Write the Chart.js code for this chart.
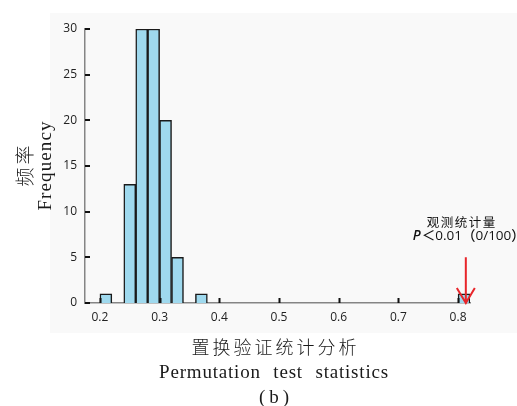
<!DOCTYPE html>
<html>
<head>
<meta charset="utf-8">
<script src="https://cdn.jsdelivr.net/npm/chart.js@4/dist/chart.umd.min.js"></script>
<style>
    html, body { margin: 0; padding: 0; background: #fff; overflow: hidden; }
</style>
</head>
<body>
<canvas id="grafico" width="517" height="406"></canvas>
<script>
const centrosBins = [0.21, 0.25, 0.27, 0.29, 0.31, 0.33, 0.37, 0.81];
const frecuencias = [1, 13, 30, 30, 20, 5, 1, 1];
const xTicks = [0.2, 0.3, 0.4, 0.5, 0.6, 0.7, 0.8];
const yTicks = [0, 5, 10, 15, 20, 25, 30];
const observado = [0.813];
const tituloY = ['频率', 'Frequency'];
const tituloX = ['置换验证统计分析', 'Permutation test statistics', '(b)'];
const etiquetaObs = ['观测统计量', 'P', '＜0.01（0/100）'];

const serif = "'Liberation Serif', 'DejaVu Serif', 'Noto Sans CJK SC', serif";
const cjk = "'Noto Sans CJK SC', 'Liberation Serif', serif";
const sans = "'Open Sans', 'Noto Sans CJK SC', sans-serif";

const fondoPanel = {
    id: 'fondoPanel',
    beforeDraw(chart) {
        const ctx = chart.ctx;
        const a = chart.chartArea;
        ctx.save();
        ctx.fillStyle = '#ffffff';
        ctx.fillRect(0, 0, chart.width, chart.height);
        ctx.fillStyle = '#f9f9f9';
        ctx.fillRect(a.left - 35, a.top - 16, chart.width - (a.left - 35), a.bottom - a.top + 46);
        ctx.restore();
    }
};

const marcas = {
    id: 'marcas',
    afterDraw(chart) {
        const ctx = chart.ctx;
        const x = chart.scales.x, y = chart.scales.y;
        const a = chart.chartArea;
        ctx.save();

        // ticks hacia adentro
        ctx.strokeStyle = '#111';
        ctx.lineWidth = 2;
        ctx.beginPath();
        xTicks.forEach(v => {
            const px = Math.round(x.getPixelForValue(v)) + 0.5;
            ctx.moveTo(px, a.bottom);
            ctx.lineTo(px, a.bottom - 5);
        });
        yTicks.forEach(v => {
            const py = Math.round(y.getPixelForValue(v));
            ctx.moveTo(a.left, py);
            ctx.lineTo(a.left + 5, py);
        });
        ctx.stroke();

        // flecha del estadístico observado
        const px = x.getPixelForValue(observado[0]);
        const y0 = y.getPixelForValue(0);
        const yTop = y.getPixelForValue(5);
        ctx.strokeStyle = '#e8262b';
        ctx.lineWidth = 2;
        ctx.beginPath();
        ctx.moveTo(px, yTop);
        ctx.lineTo(px, y0);
        ctx.moveTo(px - 9, y0 - 15);
        ctx.lineTo(px, y0);
        ctx.lineTo(px + 9, y0 - 15);
        ctx.stroke();

        // texto de la anotación
        ctx.fillStyle = '#111';
        ctx.textBaseline = 'middle';
        ctx.textAlign = 'center';
        ctx.font = '12.5px ' + cjk;
        ctx.letterSpacing = '1.5px';
        ctx.fillText(etiquetaObs[0], px - 4, y0 - 81);
        ctx.letterSpacing = '0px';
        ctx.textAlign = 'left';
        ctx.font = 'italic 600 13.5px ' + sans;
        ctx.fillText(etiquetaObs[1], px - 53, y0 - 67);
        const wP = ctx.measureText(etiquetaObs[1]).width;
        ctx.font = '500 13.5px ' + sans;
        ctx.fillText(etiquetaObs[2], px - 53 + wP + 1, y0 - 67);

        // título eje Y
        const cy = (a.top + a.bottom) / 2;
        ctx.fillStyle = '#1a1a1a';
        ctx.textAlign = 'center';
        ctx.save();
        ctx.translate(25, cy);
        ctx.rotate(-Math.PI / 2);
        ctx.font = '300 19px ' + cjk;
        ctx.letterSpacing = '3px';
        ctx.fillText(tituloY[0], 1.5, 0);
        ctx.restore();
        ctx.save();
        ctx.translate(46, cy);
        ctx.rotate(-Math.PI / 2);
        ctx.font = '19px ' + serif;
        ctx.letterSpacing = '1.1px';
        ctx.fillText(tituloY[1], 0.5, 0);
        ctx.restore();

        // título eje X
        const cx = (a.left + a.right) / 2 - 3.5;
        ctx.textBaseline = 'alphabetic';
        ctx.font = '300 18px ' + cjk;
        ctx.letterSpacing = '3px';
        ctx.fillText(tituloX[0], cx + 1.5, 354);
        ctx.font = '19px ' + serif;
        ctx.letterSpacing = '0.8px';
        ctx.wordSpacing = '7px';
        ctx.fillText(tituloX[1], cx, 378);
        ctx.wordSpacing = '0px';
        ctx.letterSpacing = '4px';
        ctx.fillText(tituloX[2], cx + 2, 403);
        ctx.restore();
    }
};

new Chart(document.getElementById('grafico'), {
    type: 'bar',
    data: {
        datasets: [{
            data: centrosBins.map((c, i) => ({ x: c, y: frecuencias[i] })),
            backgroundColor: '#9fd9ee',
            borderColor: '#1a1a1a',
            borderWidth: 1.5,
            barPercentage: 1,
            categoryPercentage: 1,
        }]
    },
    options: {
        responsive: false,
        animation: false,
        layout: { padding: { top: 29, right: 47, left: 0, bottom: 0 } },
        plugins: { legend: { display: false }, tooltip: { enabled: false } },
        scales: {
            x: {
                type: 'linear',
                offset: false,
                min: 0.175,
                max: 0.82,
                afterBuildTicks: s => { s.ticks = xTicks.map(v => ({ value: v })); },
                afterFit: s => { s.height = 103; },
                grid: { display: false, drawTicks: false },
                border: { display: true, color: '#858585', width: 1.5 },
                ticks: {
                    padding: 7,
                    color: '#222',
                    font: { family: sans, size: 12 },
                    maxRotation: 0,
                    autoSkip: false,
                    callback: v => Number(v).toFixed(1)
                }
            },
            y: {
                min: 0,
                max: 30,
                afterBuildTicks: s => { s.ticks = yTicks.map(v => ({ value: v })); },
                afterFit: s => { s.width = 85; },
                grid: { display: false, drawTicks: false },
                border: { display: true, color: '#858585', width: 1.5 },
                ticks: {
                    padding: 8,
                    color: '#222',
                    font: { family: sans, size: 12 },
                    callback: v => v
                }
            }
        }
    },
    plugins: [fondoPanel, marcas]
});
</script>
</body>
</html>
